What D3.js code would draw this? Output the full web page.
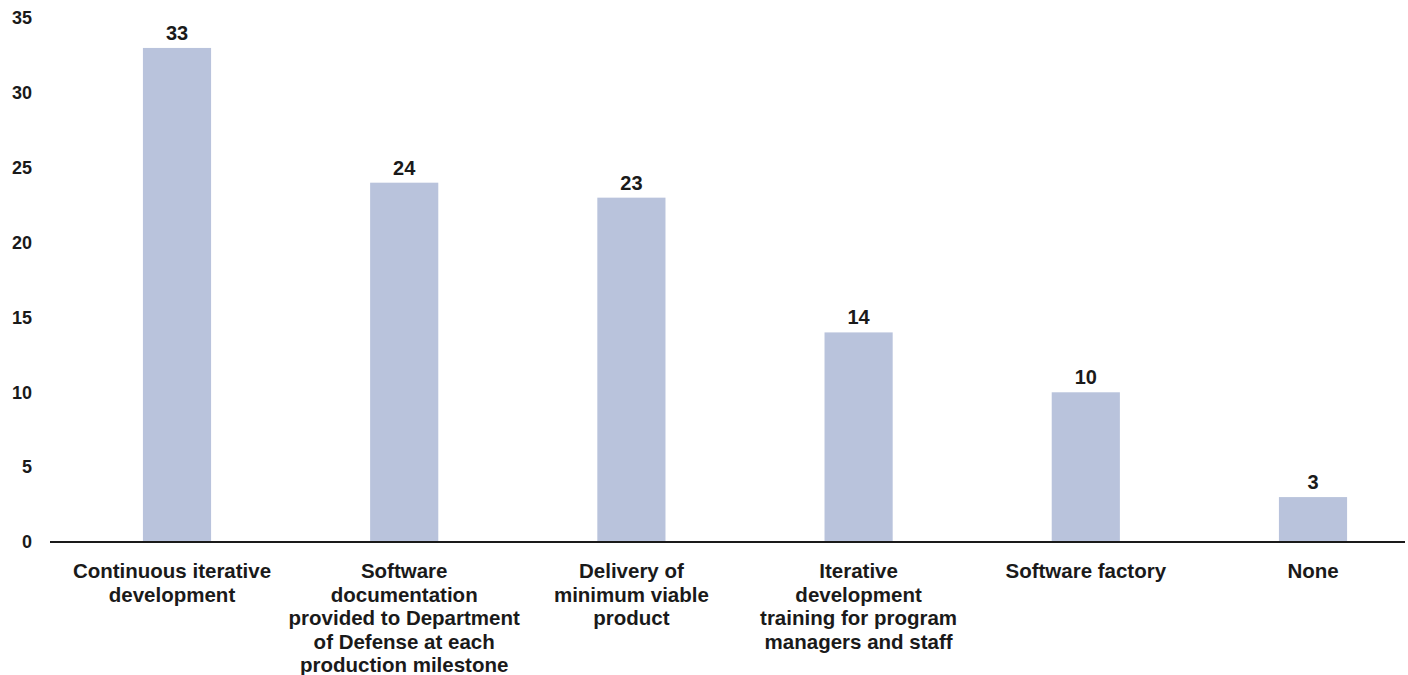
<!DOCTYPE html>
<html><head><meta charset="utf-8">
<script src="https://cdn.jsdelivr.net/npm/d3@7"></script>
<style>body{margin:0;background:#fff;} text{font-family:"Liberation Sans",Arial,sans-serif;font-weight:bold;fill:#1a1a1a;}</style>
</head><body><svg id="c" width="1408" height="675"></svg>
<script>
const categories = [
  ["Continuous iterative", "development"],
  ["Software", "documentation", "provided to Department", "of Defense at each", "production milestone"],
  ["Delivery of", "minimum viable", "product"],
  ["Iterative", "development", "training for program", "managers and staff"],
  ["Software factory"],
  ["None"]
];
const values = [33, 24, 23, 14, 10, 3];
const yTicks = [0, 5, 10, 15, 20, 25, 30, 35];

const svg = d3.select("#c");
const ids = d3.range(values.length);
const x = d3.scaleBand().domain(ids).range([63.4, 1426.6]).paddingInner(0.7).paddingOuter(0.35);
const y = d3.scaleLinear().domain([0, 35]).range([542, 18]);

// bars
svg.append("g").selectAll("rect").data(ids).join("rect")
  .attr("x", i => x(i)).attr("width", x.bandwidth())
  .attr("y", i => y(values[i])).attr("height", i => y(0) - y(values[i]))
  .attr("fill", "#b9c3dc");

// x axis line
svg.append("line").attr("x1", 50).attr("x2", 1405).attr("y1", y(0)).attr("y2", y(0))
  .attr("stroke", "#1a1a1a").attr("stroke-width", 2.2);

// y axis labels
const ya = d3.axisLeft(y).tickValues(yTicks).tickSize(0).tickPadding(0);
const gy = svg.append("g").attr("transform", "translate(32,0)").call(ya);
gy.select(".domain").remove();
gy.selectAll("text").style("font-size", "18px").attr("fill", "#1a1a1a")
  .style("font-family", '"Liberation Sans",Arial,sans-serif').style("font-weight", "bold");

// value labels
svg.append("g").selectAll("text").data(ids).join("text")
  .attr("x", i => x(i) + x.bandwidth() / 2).attr("y", i => y(values[i]) - 8)
  .attr("text-anchor", "middle").style("font-size", "20px").text(i => values[i]);

// category labels
const gl = svg.append("g");
ids.forEach(i => {
  const cx = x(i) + x.bandwidth() / 2 - (i === 0 ? 5 : 0);
  const t = gl.append("text").attr("text-anchor", "middle").style("font-size", "20.5px")
    .attr("x", cx).attr("y", 578);
  categories[i].forEach((ln, k) => {
    t.append("tspan").attr("x", cx).attr("dy", k === 0 ? 0 : 23.5).text(ln);
  });
});
</script></body></html>
